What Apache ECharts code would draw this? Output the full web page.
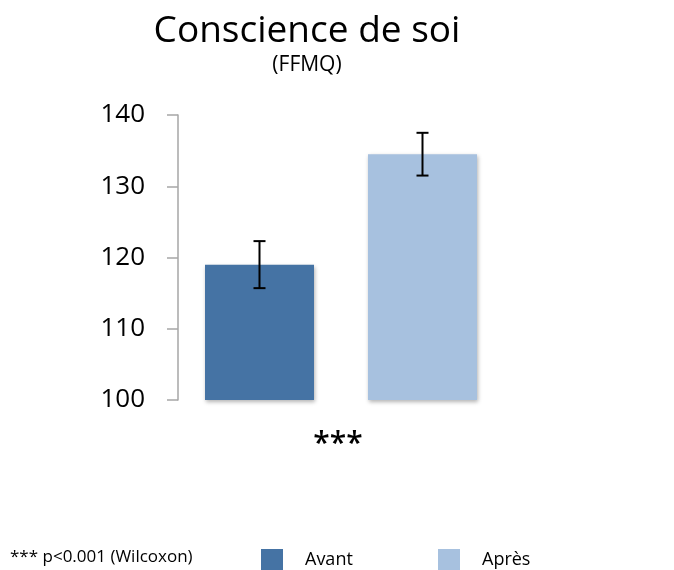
<!DOCTYPE html>
<html>
<head>
<meta charset="utf-8">
<script src="https://cdn.jsdelivr.net/npm/echarts@6/dist/echarts.min.js"></script>
<style>
  html, body { margin: 0; padding: 0; background: #fff; }
  #chart { width: 674px; height: 570px; }
</style>
</head>
<body>
<div id="chart"></div>
<script>
// Mean FFMQ score before and after, with standard error
const categories = ['Avant', 'Après'];
const means = [119, 134.5];
const errors = [3.3, 3.0];
const barColors = ['#4573A4', '#A7C1DF'];
const yTicks = [100, 110, 120, 130, 140];

const FONT = '"Open Sans", sans-serif';
const chart = echarts.init(document.getElementById('chart'), null, { renderer: 'canvas' });

const barSeries = categories.map((name, i) => ({
  name: name,
  type: 'bar',
  barWidth: 109,
  barGap: '-100%',
  data: categories.map((c, j) => (j === i ? means[i] : '-')),
  itemStyle: {
    color: barColors[i],
    shadowBlur: 4,
    shadowOffsetX: 1,
    shadowOffsetY: 2,
    shadowColor: 'rgba(0,0,0,0.3)'
  },
  silent: true
}));

const errorSeries = {
  type: 'custom',
  z: 10,
  silent: true,
  data: categories.map((c, i) => [i, means[i] - errors[i], means[i] + errors[i]]),
  renderItem: function (params, api) {
    const lo = api.coord([api.value(0), api.value(1)]);
    const hi = api.coord([api.value(0), api.value(2)]);
    const x = lo[0];
    const cap = 6;
    const style = { stroke: '#000', lineWidth: 2 };
    return {
      type: 'group',
      children: [
        { type: 'line', shape: { x1: x, y1: lo[1], x2: x, y2: hi[1] }, style: style },
        { type: 'line', shape: { x1: x - cap, y1: lo[1], x2: x + cap, y2: lo[1] }, style: style },
        { type: 'line', shape: { x1: x - cap, y1: hi[1], x2: x + cap, y2: hi[1] }, style: style }
      ]
    };
  }
};

const legendBase = {
  orient: 'horizontal',
  padding: 0,
  itemWidth: 22,
  itemHeight: 22,
  icon: 'rect',
  selectedMode: false,
  textStyle: { fontFamily: FONT, fontSize: 18, color: '#000', padding: [4, 0, 0, 17] }
};

chart.setOption({
  animation: false,
  backgroundColor: '#fff',
  grid: { left: 178, right: 170, top: 115, bottom: 170 },
  xAxis: {
    type: 'category',
    data: categories,
    axisLine: { show: false },
    axisTick: { show: false },
    axisLabel: { show: false }
  },
  yAxis: {
    type: 'value',
    min: yTicks[0],
    max: yTicks[yTicks.length - 1],
    interval: 10,
    splitLine: { show: false },
    axisLine: { show: true, lineStyle: { color: '#a6a6a6', width: 1.5 } },
    axisTick: { show: true, length: 11, lineStyle: { color: '#a6a6a6', width: 1.5 } },
    axisLabel: { fontFamily: FONT, fontSize: 26, color: '#000', margin: 33 }
  },
  legend: [
    Object.assign({}, legendBase, { data: [categories[0]], left: 261, top: 549 }),
    Object.assign({}, legendBase, { data: [categories[1]], left: 438, top: 549 })
  ],
  graphic: [
    { type: 'text', x: 307, y: 31, style: { text: 'Conscience de soi', font: '37px ' + FONT, fill: '#000', textAlign: 'center', textVerticalAlign: 'middle' } },
    { type: 'text', x: 307, y: 65, style: { text: '(FFMQ)', font: '21px ' + FONT, fill: '#000', textAlign: 'center', textVerticalAlign: 'middle' } },
    { type: 'text', x: 338, y: 444, style: { text: '***', font: '600 30px ' + FONT, fill: '#000', textAlign: 'center', textVerticalAlign: 'middle' } },
    { type: 'text', x: 10, y: 557, style: { text: '*** p<0.001 (Wilcoxon)', font: '17px ' + FONT, fill: '#000', textAlign: 'left', textVerticalAlign: 'middle' } }
  ],
  series: barSeries.concat([errorSeries])
});
</script>
</body>
</html>
